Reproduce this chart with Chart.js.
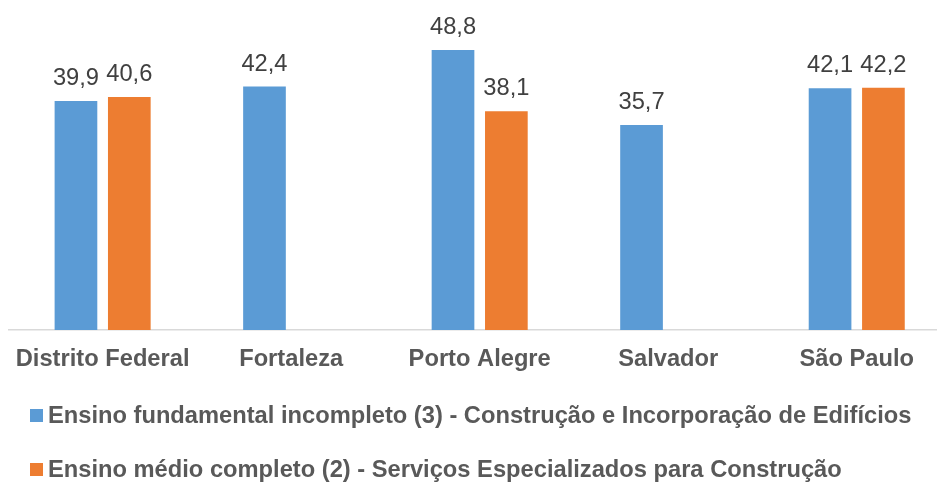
<!DOCTYPE html>
<html>
<head>
<meta charset="utf-8">
<script src="https://cdn.jsdelivr.net/npm/chart.js@4.4.0/dist/chart.umd.min.js"></script>
<style>
  html, body { margin: 0; padding: 0; background: #fff; overflow: hidden; }
  /* plot runs past the right edge in the original, so the canvas is a bit wider than the window */
  #wrap { width: 951px; height: 482px; position: relative; }
</style>
</head>
<body>
<div id="wrap"><canvas id="eduChart"></canvas></div>
<script>
const cities = ['Distrito Federal', 'Fortaleza', 'Porto Alegre', 'Salvador', 'São Paulo'];
const fundamentalValues = [39.9, 42.4, 48.8, 35.7, 42.1];
const medioValues = [40.6, null, 38.1, null, 42.2];
const seriesNames = [
  'Ensino fundamental incompleto (3) - Construção e Incorporação de Edifícios',
  'Ensino médio completo (2) - Serviços Especializados para Construção'
];
const seriesColors = ['#5B9BD5', '#ED7D31'];

const FONT = '"Liberation Sans", Arial, sans-serif';

// value labels above each bar, comma decimal
const valueLabels = {
  id: 'valueLabels',
  afterDatasetsDraw(chart) {
    const ctx = chart.ctx;
    ctx.save();
    ctx.font = '23.7px ' + FONT;
    ctx.fillStyle = '#404040';
    ctx.textAlign = 'center';
    ctx.textBaseline = 'alphabetic';
    chart.data.datasets.forEach((ds, i) => {
      chart.getDatasetMeta(i).data.forEach((bar, j) => {
        const v = ds.data[j];
        if (v === null) return;
        ctx.fillText(v.toFixed(1).replace('.', ','), bar.x, bar.y - 16);
      });
    });
    ctx.restore();
  }
};

// left-aligned legend, one series per line
const stackedLegend = {
  id: 'stackedLegend',
  afterDraw(chart) {
    const ctx = chart.ctx;
    const rows = [415.5, 469.5];
    ctx.save();
    ctx.font = 'bold 23.7px ' + FONT;
    ctx.textBaseline = 'middle';
    ctx.textAlign = 'left';
    chart.data.datasets.forEach((ds, i) => {
      ctx.fillStyle = ds.backgroundColor;
      ctx.fillRect(30, rows[i] - 6.5, 13, 13);
      ctx.fillStyle = '#595959';
      ctx.fillText(ds.label, 48, rows[i] + 1);
    });
    ctx.restore();
  }
};

new Chart(document.getElementById('eduChart'), {
  type: 'bar',
  data: {
    labels: cities,
    datasets: [
      { label: seriesNames[0], data: fundamentalValues, backgroundColor: seriesColors[0] },
      { label: seriesNames[1], data: medioValues, backgroundColor: seriesColors[1] }
    ]
  },
  options: {
    responsive: true,
    maintainAspectRatio: false,
    animation: false,
    categoryPercentage: 0.566,
    barPercentage: 0.8,
    layout: { padding: { top: 43, left: 7.6, right: 0, bottom: 108 } },
    plugins: { legend: { display: false }, tooltip: { enabled: false } },
    scales: {
      x: {
        grid: { display: false, drawTicks: false },
        border: { display: true, color: '#D9D9D9', width: 1.5 },
        ticks: {
          color: '#595959',
          font: { family: FONT, size: 23.7, weight: 'bold' },
          padding: 15,
          maxRotation: 0,
          autoSkip: false
        },
        afterFit(scale) { scale.height = 44; }
      },
      y: { display: false, min: 0, max: 50 }
    }
  },
  plugins: [valueLabels, stackedLegend]
});
</script>
</body>
</html>
